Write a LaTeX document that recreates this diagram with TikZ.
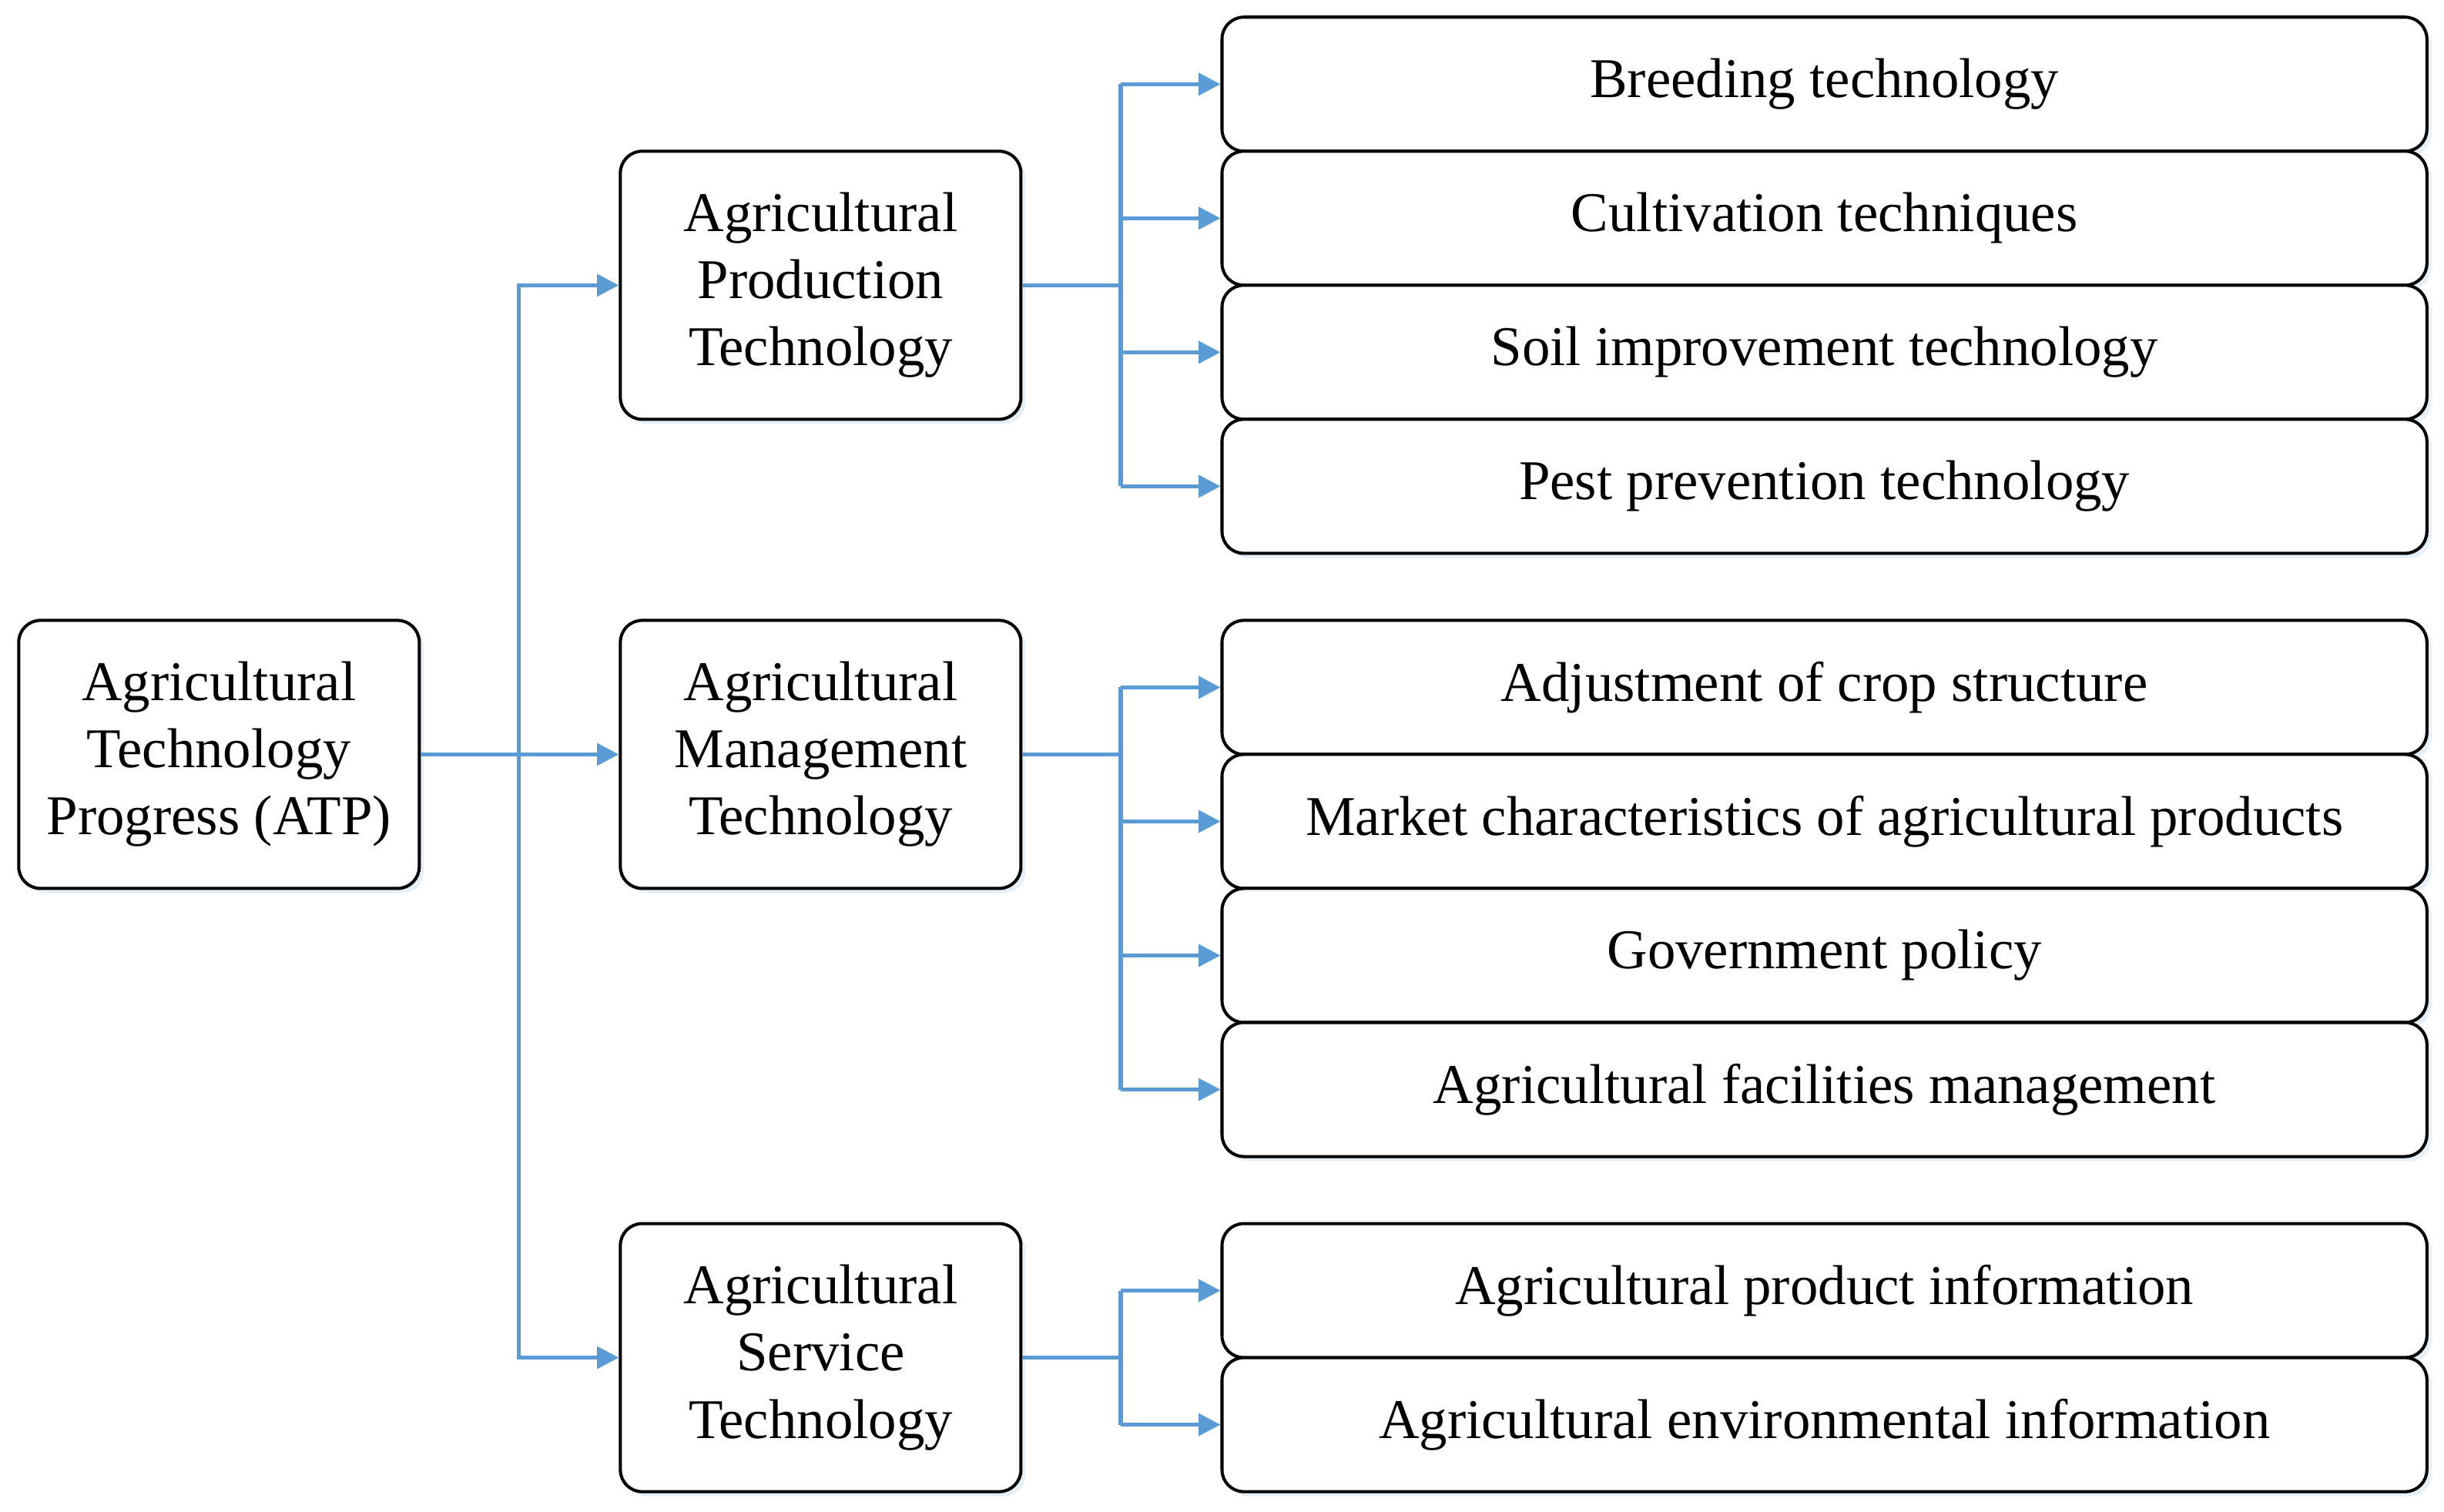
\documentclass[tikz,border=0pt]{standalone}
\usepackage{fontspec}
\setmainfont{Liberation Serif}
\usetikzlibrary{arrows.meta,shadows}
\definecolor{ln}{RGB}{91,155,213}
\tikzset{bx/.style={draw,line width=1pt,rounded corners=7pt,fill=white,align=center,inner sep=0pt,
  drop shadow={shadow xshift=1.5pt,shadow yshift=-1.5pt,fill=ln!25,opacity=0.6},
  font=\fontsize{18}{21.5}\selectfont},
  ar/.style={draw=ln,line width=1.3pt,-{Triangle[length=7pt,width=7pt]}},
  ln/.style={draw=ln,line width=1.3pt}}
\begin{document}
\begin{tikzpicture}[x=0.5pt,y=-0.5pt]
\useasboundingbox (0,0) rectangle (1568,970);
\node[bx,minimum width=128.5pt,minimum height=86pt] (atp) at (140.5,484) {Agricultural\\Technology\\Progress (ATP)};
\node[bx,minimum width=128.5pt,minimum height=86pt] (apt) at (526.5,183) {Agricultural\\Production\\Technology};
\node[bx,minimum width=128.5pt,minimum height=86pt] (amt) at (526.5,484) {Agricultural\\Management\\Technology};
\node[bx,minimum width=128.5pt,minimum height=86pt] (ast) at (526.5,871) {Agricultural\\Service\\Technology};
\foreach \n/\y/\t in {r1/54/Breeding technology,r2/140/Cultivation techniques,r3/226/Soil improvement technology,r4/312/Pest prevention technology,
 r5/441/Adjustment of crop structure,r6/527/Market characteristics of agricultural products,r7/613/Government policy,r8/699/Agricultural facilities management,
 r9/828/Agricultural product information,r10/914/Agricultural environmental information}
 \node[bx,minimum width=386.5pt,minimum height=43pt] (\n) at (1170.5,\y) {\t};
\coordinate (t) at (333,484);
\draw[ln] (atp.east) -- (t);
\draw[ar] (t) -- (amt.west);
\draw[ar] (t) |- (apt.west);
\draw[ar] (t) |- (ast.west);
\foreach \p/\a/\b in {apt/r1/r4,amt/r5/r8,ast/r9/r10}{
 \draw[ln] (\p.east) -- ++(64,0);
 \draw[ln] (\a.west -| 719,0) -- (\b.west -| 719,0);
}
\foreach \r in {r1,r2,r3,r4,r5,r6,r7,r8,r9,r10}
 \draw[ar] (\r.west -| 719,0) -- (\r.west);
\end{tikzpicture}
\end{document}
